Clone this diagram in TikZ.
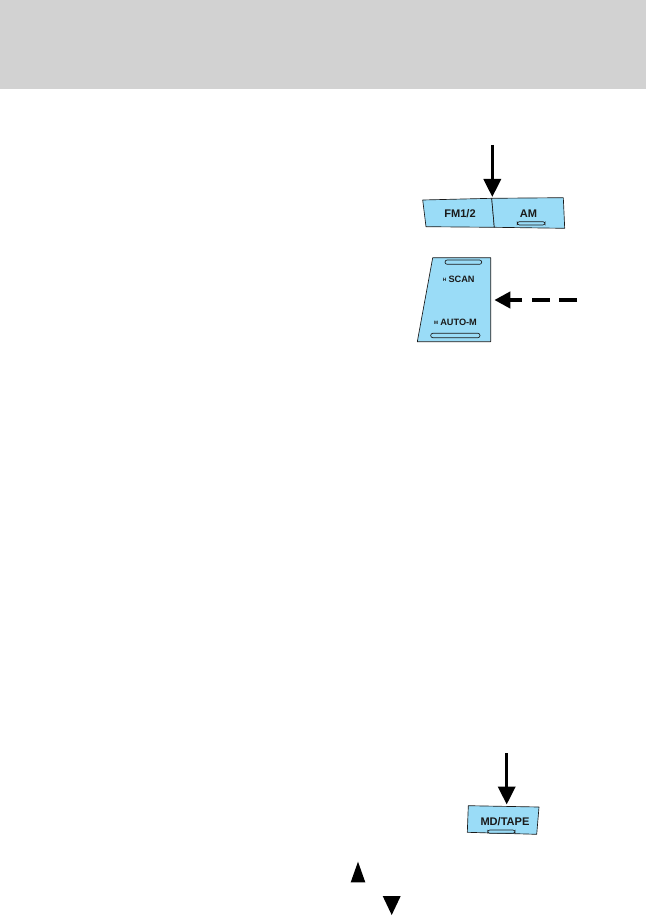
\documentclass[tikz,border=0pt]{standalone}
\usepackage{fontspec}
\setsansfont{Liberation Sans}
\usepackage{tikz}
\usetikzlibrary{arrows.meta}
\definecolor{KeyBlue}{HTML}{9ADCF7}
\definecolor{HeadGray}{HTML}{D2D2D2}
\definecolor{KeyInk}{HTML}{1A1A1A}
\tikzset{
  keylabel/.style={font=\sffamily\bfseries\fontsize{8.3}{9}\selectfont, text=KeyInk, inner sep=0pt},
  keysmall/.style={font=\sffamily\bfseries\fontsize{6.9}{8}\selectfont, text=KeyInk, inner sep=0pt},
  keytiny/.style={font=\sffamily\bfseries\fontsize{3.6}{4}\selectfont, text=KeyInk, inner sep=0pt},
  keyface/.style={draw=KeyInk, line width=0.5pt, fill=KeyBlue, line join=round},
  keyslot/.style={draw=KeyInk, line width=0.5pt, fill=KeyBlue, rounded corners=1.6pt},
  pressarrow/.style={-{Triangle[length=13.5pt,width=12.8pt]}, line width=2.6pt, draw=black},
  turnarrow/.style={-{Triangle[length=12pt,width=12pt]}, line width=3pt, draw=black, dash pattern=on 13.5pt off 7.1pt},
  seekmark/.style={fill=black}
}
\begin{document}
\begin{tikzpicture}[x=0.75pt, y=-0.75pt]
\useasboundingbox (0,0) rectangle (646,916);
\fill[HeadGray] (0,0) rectangle (646,89);
% band selector
\path[keyface] (422.7,200) -- (491.7,198.3) -- (494.3,227.3) -- (426,226.7) -- cycle;
\path[keyface] (491.7,198.3) -- (563.3,197.7) -- (564.7,228.3) -- (494.3,227.3) -- cycle;
\path[keyslot] (517.3,221.7) rectangle (545,225);
\node[keylabel] (fm) at (460,213.3) {FM1/2};
\node[keylabel] (am) at (528.5,213.3) {AM};
\coordinate (fmtail) at (492.3,145);
\coordinate (fmtip) at (492.3,197);
\draw[pressarrow] (fmtail) -- (fmtip);
% tuning rocker
\path[keyface] (432.7,257.7) -- (490.7,257.7) -- (490.7,341.7) -- (417.3,341.7) -- cycle;
\path[keyslot] (445,260) rectangle (481.7,264.3);
\path[keyslot] (430.7,333.3) rectangle (480,337.7);
\node[keysmall, anchor=west] (scan) at (448.3,279.5) {SCAN};
\node[keytiny, anchor=east] (scanh) at ([xshift=-1.2pt]scan.west) {H};
\node[keysmall, anchor=west] (automem) at (440,322.7) {AUTO-M};
\node[keytiny, anchor=east] (autom) at ([xshift=-1.2pt]automem.west) {M};
\coordinate (rocktail) at (577,300);
\coordinate (rocktip) at (494.3,300);
\draw[turnarrow] (rocktail) -- (rocktip);
% media key
\path[keyface] (468.3,805.7) -- (539,807) -- (536.7,834.3) -- (467.3,832.3) -- cycle;
\path[keyslot] (487.7,830) rectangle (515,833.3);
\node[keylabel] (tape) at (505,821.5) {MD/TAPE};
\coordinate (tapetail) at (506.7,753.3);
\coordinate (tapetip) at (506.7,804.5);
\draw[pressarrow] (tapetail) -- (tapetip);
% seek marks
\fill[seekmark] (350.7,882.3) -- (365.3,882.3) -- (358,861.7) -- cycle;
\fill[seekmark] (382.7,896) -- (400.7,896) -- (391.7,915) -- cycle;
\end{tikzpicture}
\end{document}
